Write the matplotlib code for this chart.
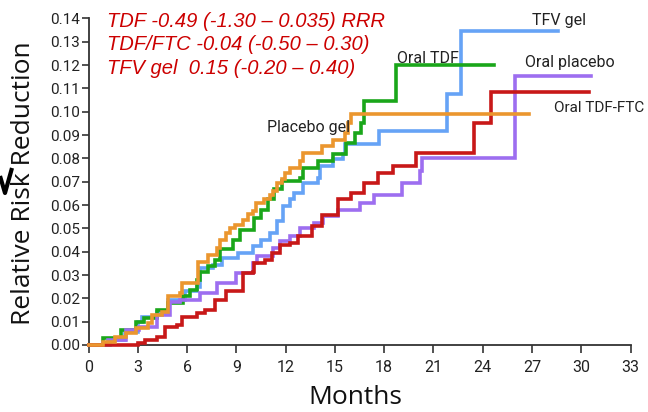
import matplotlib
matplotlib.use("Agg")
import matplotlib.pyplot as plt
from matplotlib.lines import Line2D

# Cumulative relative risk reduction curves (months, value after each step)
gel_placebo_t = [0, 0.9, 1.6, 2.3, 2.9, 3.6, 3.85, 4.45, 4.86, 5.57, 5.67, 6.68, 7.3, 7.8, 8.0,
                 8.4, 8.6, 8.9, 9.4, 9.7, 10.0, 10.2, 10.7, 11.05, 11.25, 11.45, 11.76, 11.96,
                 12.26, 12.87, 13.07, 14.2, 14.9, 15.6, 15.8, 16.0, 26.8]
gel_placebo_v = [0, 0.0014, 0.0036, 0.0050, 0.0072, 0.0093, 0.0129, 0.0140, 0.0208, 0.0225,
                 0.0265, 0.0358, 0.0387, 0.0416, 0.0452, 0.0480, 0.0500, 0.0516, 0.0538, 0.0560,
                 0.0573, 0.0610, 0.0624, 0.0645, 0.0660, 0.0695, 0.0710, 0.0739, 0.0760, 0.0789,
                 0.0824, 0.0853, 0.0880, 0.0910, 0.0953, 0.0992, 0.0992]

oral_tdf_t = [0, 0.9, 2.0, 2.9, 3.4, 4.15, 4.86, 5.77, 6.18, 6.58, 6.79, 7.3, 7.7, 8.0, 8.8, 9.2,
              10.1, 10.5, 10.9, 11.3, 11.76, 12.87, 13.07, 13.99, 14.9, 15.7, 16.2, 16.6, 16.8,
              18.7, 24.7]
oral_tdf_v = [0, 0.0029, 0.0065, 0.0100, 0.0115, 0.0150, 0.0180, 0.0208, 0.0237, 0.0280, 0.0315,
              0.0340, 0.0366, 0.0410, 0.0450, 0.0495, 0.0545, 0.0580, 0.0624, 0.0667, 0.0702,
              0.0717, 0.0760, 0.0789, 0.0817, 0.0867, 0.0910, 0.0953, 0.1045, 0.1200, 0.1200]

tfv_gel_t = [0, 1.3, 2.2, 3.0, 3.24, 4.15, 4.86, 5.87, 6.58, 6.79, 7.6, 8.1, 9.1, 10.0, 10.5,
             11.05, 11.45, 11.86, 12.26, 12.5, 13.07, 14.0, 14.1, 14.9, 15.5, 15.6, 17.7, 21.8,
             22.7, 28.6]
tfv_gel_v = [0, 0.0021, 0.0057, 0.0100, 0.0120, 0.0143, 0.0194, 0.0230, 0.0250, 0.0330, 0.0344,
             0.0373, 0.0394, 0.0423, 0.0450, 0.0480, 0.0530, 0.0595, 0.0624, 0.0650, 0.0695,
             0.0717, 0.0767, 0.0796, 0.0817, 0.0860, 0.0917, 0.1075, 0.1345, 0.1345]

oral_tdf_ftc_t = [0, 3.03, 3.44, 4.15, 4.66, 5.37, 5.67, 6.58, 7.09, 7.7, 8.4, 9.4, 10.0, 10.1,
                  10.74, 11.15, 11.66, 12.26, 12.77, 13.58, 14.2, 15.2, 16.0, 16.8, 17.6, 18.55,
                  19.97, 23.5, 24.5, 30.5]
oral_tdf_ftc_v = [0, 0.0007, 0.0021, 0.0036, 0.0079, 0.0086, 0.0122, 0.0136, 0.0150, 0.0194,
                  0.0230, 0.0308, 0.0315, 0.0350, 0.0366, 0.0394, 0.0430, 0.0437, 0.0466, 0.0509,
                  0.0559, 0.0624, 0.0652, 0.0695, 0.0738, 0.0767, 0.0824, 0.0953, 0.1086, 0.1086]

oral_placebo_t = [0, 0.9, 1.2, 2.3, 3.1, 4.15, 4.96, 5.57, 6.79, 7.8, 9.0, 10.0, 10.24, 11.25,
                  11.66, 12.26, 12.87, 13.7, 14.3, 15.2, 16.5, 17.4, 19.06, 20.2, 20.3, 25.96,
                  30.6]
oral_placebo_v = [0, 0.0007, 0.0021, 0.0065, 0.0079, 0.0129, 0.0186, 0.0194, 0.0222, 0.0265,
                  0.0308, 0.0350, 0.0380, 0.0416, 0.0444, 0.0466, 0.0500, 0.0523, 0.0552, 0.0580,
                  0.0610, 0.0645, 0.0695, 0.0745, 0.0803, 0.1153, 0.1153]

x_ticks = list(range(0, 34, 3))
y_ticks = [i / 100 for i in range(0, 15)]

rrr_lines = [
    "TDF -0.49 (-1.30 \u2013 0.035) RRR",
    "TDF/FTC -0.04 (-0.50 \u2013 0.30)",
    "TFV gel  0.15 (-0.20 \u2013 0.40)",
]

W, H = 648, 412
fig = plt.figure(figsize=(W / 100, H / 100), dpi=100)
ax = fig.add_axes([88.5 / W, 67 / H, 542 / W, 326.5 / H])

narrow = ["Roboto", "DejaVu Sans"]

series = [
    (tfv_gel_t, tfv_gel_v, "#66a3f6"),
    (oral_tdf_t, oral_tdf_v, "#1aa61a"),
    (oral_placebo_t, oral_placebo_v, "#9d6ef0"),
    (oral_tdf_ftc_t, oral_tdf_ftc_v, "#c81818"),
    (gel_placebo_t, gel_placebo_v, "#eb962e"),
]
for i, (t, v, c) in enumerate(series):
    ax.step(t, v, where="post", color=c, lw=2.6, clip_on=False, zorder=3 + i,
            solid_joinstyle="miter")

ax.set_xlim(0, 33)
ax.set_ylim(0, 0.14)
ax.set_xticks(x_ticks)
ax.set_yticks(y_ticks)
ax.set_xticklabels([str(x) for x in x_ticks], family=narrow, fontsize=11.5)
ax.set_yticklabels([f"{y:.2f}" for y in y_ticks], family=narrow, fontsize=11)
for s in ("top", "right"):
    ax.spines[s].set_visible(False)
for s in ("left", "bottom"):
    ax.spines[s].set_color("#333333")
    ax.spines[s].set_linewidth(1.3)
ax.tick_params(axis="y", direction="out", length=5, width=1.2, color="#333333", pad=1,
               labelcolor="#222222")
ax.tick_params(axis="x", direction="out", length=6, width=1.2, color="#333333", pad=5,
               labelcolor="#222222")

# Curve labels
def label(px, py, s, size=11.5):
    fig.text(px / W, 1 - py / H, s, family=narrow, fontsize=size, color="#222222",
             ha="left", va="baseline")

label(531.7, 25, "TFV gel")
label(396.7, 63.3, "Oral TDF")
label(525, 66.7, "Oral placebo")
label(554, 111.7, "Oral TDF-FTC", 11)
label(266.7, 131.7, "Placebo gel")

# Relative risk reduction estimates
for k, s in enumerate(rrr_lines):
    fig.text(107 / W, 1 - (26.7 + 23.6 * k) / H, s, family=["Liberation Sans", "DejaVu Sans"],
             style="italic", fontsize=14.5, color="#cc0000", ha="left", va="baseline")

fig.text(24 / W, 1 - 183 / H, "Relative Risk Reduction", family=["Open Sans", "DejaVu Sans"],
         fontsize=19, rotation=90, ha="center", va="center", color="#111111")
fig.text(355 / W, 1 - 397 / H, "Months", family=["Open Sans", "DejaVu Sans"],
         fontsize=19, ha="center", va="center", color="#111111")

# Small check-shaped stroke at the left margin
fig.add_artist(Line2D([0 / W, 5 / W, 12 / W], [1 - 176 / H, 1 - 193 / H, 1 - 168 / H],
                      color="black", lw=3, solid_capstyle="butt"))

fig.savefig("out.png", dpi=100, facecolor="white")
